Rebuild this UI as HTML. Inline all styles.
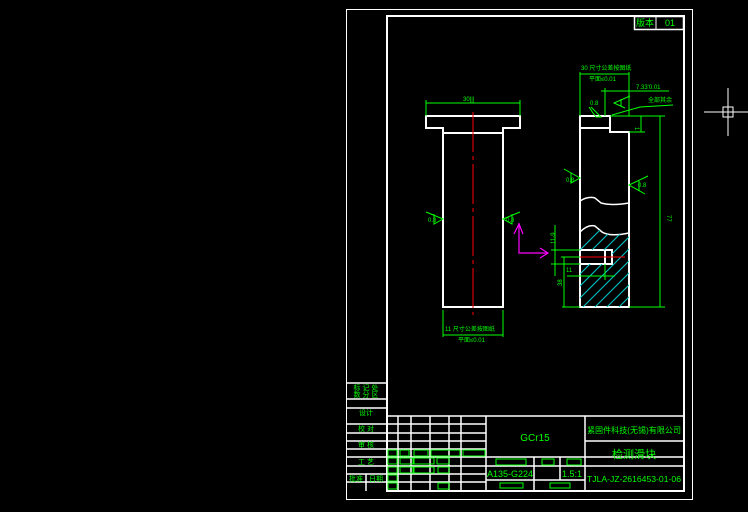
<!DOCTYPE html>
<html><head><style>html,body{margin:0;padding:0;background:#000;}svg{display:block}</style></head>
<body>
<svg width="748" height="512" viewBox="0 0 748 512" xmlns="http://www.w3.org/2000/svg" font-family="Liberation Sans, Noto Sans CJK SC, sans-serif">
<defs>
<clipPath id="hc"><path d="M580,232 Q588,224 595,226 L602,232 Q610,237 629,233 L629,307 L580,307 Z M580,250 L612,250 L612,264 L580,264 Z" clip-rule="evenodd"/></clipPath>
</defs>
<rect width="748" height="512" fill="#000"/>
<g stroke="#fff" stroke-width="1" fill="none">
<line x1="704" y1="112" x2="748" y2="112"/><line x1="728" y1="88" x2="728" y2="136"/><rect x="723" y="107" width="10" height="10"/>
</g>
<g stroke="#fff" fill="none">
<rect x="346.5" y="9.5" width="346" height="490" stroke-width="1"/>
<rect x="387" y="16" width="297" height="475" stroke-width="2"/>
<rect x="634.5" y="16.5" width="49" height="13" stroke-width="1.5"/>
<line x1="656" y1="16" x2="656" y2="29"/>
</g>
<text x="645" y="26" fill="#0f0" font-size="9" text-anchor="middle">版本</text>
<text x="670" y="26" fill="#0f0" font-size="9" text-anchor="middle">01</text>

<g stroke="#fff" stroke-width="1.5" fill="none">
<line x1="387" y1="416" x2="684" y2="416"/>
<line x1="346" y1="383" x2="387" y2="383"/>
<line x1="346" y1="399" x2="387" y2="399"/>
<line x1="346" y1="408" x2="387" y2="408"/>
<line x1="346" y1="424" x2="486" y2="424"/>
<line x1="346" y1="433" x2="486" y2="433"/>
<line x1="346" y1="441" x2="486" y2="441"/>
<line x1="346" y1="449" x2="486" y2="449"/>
<line x1="346" y1="457" x2="684" y2="457"/>
<line x1="346" y1="466" x2="486" y2="466"/>
<line x1="346" y1="474" x2="486" y2="474"/>
<line x1="346" y1="482" x2="486" y2="482"/>
<line x1="486" y1="466" x2="585" y2="466"/>
<line x1="486" y1="480" x2="585" y2="480"/>
<line x1="585" y1="441" x2="684" y2="441"/>
<line x1="585" y1="466" x2="684" y2="466"/>
<line x1="366" y1="474" x2="366" y2="491"/>
<line x1="398" y1="416" x2="398" y2="491"/>
<line x1="411" y1="416" x2="411" y2="491"/>
<line x1="430" y1="416" x2="430" y2="491"/>
<line x1="449" y1="416" x2="449" y2="491"/>
<line x1="461" y1="416" x2="461" y2="491"/>
<line x1="486" y1="416" x2="486" y2="491"/>
<line x1="585" y1="416" x2="585" y2="491"/>
<line x1="534" y1="457" x2="534" y2="491"/>
<line x1="560" y1="457" x2="560" y2="480"/>
</g>
<g stroke="#0f0" stroke-width="1" fill="none">
<rect x="388" y="450" width="9" height="6"/><rect x="400" y="450" width="9" height="6"/><rect x="414" y="450" width="14" height="6"/><rect x="431" y="450" width="29" height="6"/><rect x="463" y="450" width="22" height="6"/>
<rect x="388" y="458" width="9" height="6"/><rect x="400" y="458" width="13" height="6"/><rect x="414" y="458" width="20" height="6"/><rect x="437" y="458" width="12" height="6"/>
<rect x="388" y="467" width="9" height="6"/><rect x="400" y="467" width="13" height="6"/><rect x="414" y="467" width="20" height="6"/><rect x="438" y="467" width="11" height="6"/>
<rect x="388" y="475" width="9" height="6"/>
<rect x="388" y="483" width="9" height="6"/><rect x="438" y="483" width="11" height="6"/>
<rect x="496" y="459" width="30" height="6"/><rect x="542" y="459" width="12" height="6"/><rect x="567" y="459" width="14" height="6"/>
<rect x="500" y="483" width="23" height="5"/><rect x="550" y="483" width="20" height="5"/>
</g>
<g fill="#0f0" font-size="7">
<text x="366" y="390" text-anchor="middle">标 记 处</text>
<text x="366" y="397" text-anchor="middle">数 分 区</text>
<text x="366" y="415" text-anchor="middle">设计</text>
<text x="366" y="431" text-anchor="middle">校 对</text>
<text x="366" y="447" text-anchor="middle">审 核</text>
<text x="366" y="464" text-anchor="middle">工 艺</text>
<text x="356" y="481" text-anchor="middle">批准</text>
<text x="376" y="481" text-anchor="middle">日期</text>
</g>
<text x="535" y="441" fill="#0f0" font-size="10" text-anchor="middle">GCr15</text>
<text x="510" y="477" fill="#0f0" font-size="9" text-anchor="middle">A135-G224</text>
<text x="572" y="477" fill="#0f0" font-size="9" text-anchor="middle">1.5:1</text>
<text x="634" y="433" fill="#0f0" font-size="8" text-anchor="middle" textLength="94" lengthAdjust="spacingAndGlyphs">紧固件科技(无锡)有限公司</text>
<text x="634" y="458" fill="#0f0" font-size="11" text-anchor="middle">检测滑块</text>
<text x="634" y="482" fill="#0f0" font-size="8" text-anchor="middle" textLength="94" lengthAdjust="spacingAndGlyphs">TJLA-JZ-2616453-01-06</text>

<g stroke="#fff" stroke-width="2" fill="none">
<path d="M426,128 L426,116 L520,116 L520,128 L503,128 L503,307 L443,307 L443,128 Z"/>
<line x1="443" y1="133" x2="503" y2="133"/>
</g>
<line x1="473" y1="112" x2="473" y2="315" stroke="#f00" stroke-width="1" stroke-dasharray="40,4,4,4"/>
<g stroke="#fff" stroke-width="2" fill="none">
<path d="M580,307 L580,116 L610,116 L610,132 L629,132 L629,307 Z"/>
<line x1="580" y1="128" x2="610" y2="128"/>
<path d="M580,201 Q588,196 595,198 L601,203 Q612,206 629,203" stroke-width="1.5"/>
<path d="M580,232 Q588,224 595,226 L602,232 Q610,237 629,233" stroke-width="1.5"/>
<rect x="580" y="250" width="32" height="14"/>
<line x1="605" y1="250" x2="605" y2="264"/>
</g>
<g clip-path="url(#hc)" stroke="#0cc" stroke-width="1">
<path d="M560,330 L660,230 M572,330 L672,230 M548,330 L648,230 M536,330 L636,230 M524,330 L624,230 M584,330 L684,230 M512,330 L612,230 M596,330 L696,230 M608,330 L708,230 M500,330 L600,230"/>
</g>
<line x1="565" y1="257" x2="625" y2="257" stroke="#f00" stroke-width="1"/>

<g stroke="#0f0" stroke-width="1" fill="none">
<line x1="426" y1="103" x2="520" y2="103"/><line x1="426" y1="100" x2="426" y2="116"/><line x1="520" y1="100" x2="520" y2="116"/>
<line x1="443" y1="310" x2="443" y2="337"/><line x1="503" y1="310" x2="503" y2="337"/><line x1="443" y1="335" x2="503" y2="335"/>
<line x1="580" y1="72" x2="580" y2="116"/><line x1="629" y1="72" x2="629" y2="116"/><line x1="580" y1="74" x2="629" y2="74"/>
<line x1="601" y1="91" x2="669" y2="91"/><line x1="605" y1="88" x2="605" y2="116"/>
<line x1="610" y1="116" x2="665" y2="116"/><line x1="629" y1="132" x2="645" y2="132"/><line x1="641" y1="116" x2="641" y2="132"/>
<line x1="629" y1="307" x2="665" y2="307"/><line x1="660" y1="116" x2="660" y2="307"/>
<line x1="612" y1="115" x2="640" y2="107"/><line x1="640" y1="107" x2="673" y2="105"/>
<line x1="551" y1="250" x2="580" y2="250"/><line x1="551" y1="264" x2="580" y2="264"/><line x1="555" y1="225" x2="555" y2="276"/>
<line x1="561" y1="257" x2="580" y2="257"/><line x1="564" y1="257" x2="564" y2="307"/>
<line x1="567" y1="276" x2="615" y2="276"/><line x1="605" y1="264" x2="605" y2="280"/>
<line x1="562" y1="307" x2="580" y2="307"/>
<path d="M426,212 L443,219 L434,224 L434,214"/>
<path d="M520,212 L503,219 L512,224 L512,214"/>
<path d="M564,169 L580,178 L571,183 L571,173"/>
<path d="M648,176 L629,185 L645,194 M639,181 L639,191"/>
<path d="M591,107 L601,117 L596,117 L593,113 L589,107"/>
<path d="M630,96 L614,103 L625,108 M621,99 L621,106"/>
</g>
<g stroke="#f0f" stroke-width="1.2" fill="none">
<path d="M519,223 L519,253 L548,253"/>
<path d="M514,234 L519,224 L523,234 M540,248 L548,253 L540,258"/>
</g>
<g fill="#0f0" font-size="6">
<text x="463" y="101">30|||</text>
<text x="445" y="331">11 尺寸公差按图纸</text>
<text x="458" y="342">平面≤0.01</text>
<text x="581" y="70">30 尺寸公差按图纸</text>
<text x="589" y="81">平面≤0.01</text>
<text x="636" y="89">7.33'0.01</text>
<text x="648" y="102">全部其余</text>
<text x="590" y="105">0.8</text>
<text x="428" y="222">0.8</text>
<text x="506" y="222">0.8</text>
<text x="566" y="182">0.8</text>
<text x="638" y="187">0.8</text>
<text x="667" y="215" transform="rotate(90 667 215)">77</text>
<text x="555" y="244" transform="rotate(-90 555 244)">11-9</text>
<text x="566" y="272">11</text>
<text x="562" y="286" transform="rotate(-90 562 286)">38</text>
<text x="635" y="127" transform="rotate(90 635 127)">1</text>
</g>
</svg>
</body></html>
